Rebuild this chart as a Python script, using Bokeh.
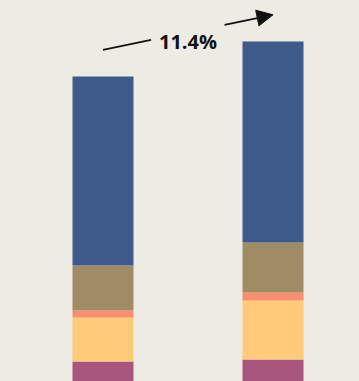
import numpy as np
from bokeh.plotting import figure
from bokeh.models import ColumnDataSource, Range1d, Arrow, NormalHead
from bokeh.embed import file_html
from bokeh.resources import INLINE
from bokeh.core.properties import value

# ---- data ----
categories = ["Year 1", "Year 2"]
segments = ["Segment E", "Segment D", "Segment C", "Segment B", "Segment A"]  # bottom -> top
seg_e = [2.2, 2.4]    # pink (bottom)
seg_d = [4.4, 5.9]    # yellow
seg_c = [0.7, 0.8]    # salmon
seg_b = [4.5, 5.0]    # olive
seg_a = [18.9, 20.1]  # blue (top)
growth_label = "11.4%"

colors = ["#A9567F", "#FFCB7B", "#F98D6C", "#A08C64", "#3E5A8A"]
BG = "#EEEBE4"

xpos = list(range(len(categories)))
src = ColumnDataSource(dict(x=xpos, cat=categories,
                            **{s: v for s, v in zip(segments, [seg_e, seg_d, seg_c, seg_b, seg_a])}))
totals = np.sum([seg_e, seg_d, seg_c, seg_b, seg_a], axis=0)

p = figure(width=359, height=381,
           x_range=Range1d(-0.6029, 1.5088), y_range=Range1d(0.2, 38.3),
           output_backend="svg", toolbar_location=None, min_border=0,
           x_axis_location=None, y_axis_location=None,
           background_fill_color=BG, border_fill_color=BG, outline_line_color=None)
p.grid.visible = False

p.vbar_stack(segments, x="x", width=0.3588, color=colors, line_color=None, source=src)

# growth arrow
offset = 2.67
x0, y0 = xpos[0], totals[0] + offset
x1, y1 = xpos[1], totals[1] + offset
gap_l, gap_r = 0.283, 0.715
def interp(f):
    return x0 + (x1 - x0) * f, y0 + (y1 - y0) * f
lx, ly = interp(gap_l)
rx, ry = interp(gap_r)
p.line([x0, lx], [y0, ly], line_color="#111111", line_width=1.8)
p.add_layout(Arrow(end=NormalHead(size=16, fill_color="#111111", line_color="#111111", line_width=1),
                   x_start=rx, y_start=ry, x_end=x1, y_end=y1,
                   line_color="#111111", line_width=1.8))
mx, my = interp(0.5)
p.text(x=[mx], y=[my - 0.9], text=[growth_label], text_font=value("Open Sans"),
       text_font_style="bold", text_font_size="20px", text_align="center",
       text_baseline="alphabetic", text_color="#111111")

template = """{% block postamble %}<style>html,body{margin:0 !important;padding:0 !important;background:#EEEBE4;overflow:hidden;}</style>{% endblock %}"""
open("out.html", "w").write(file_html(p, INLINE, template=template))
